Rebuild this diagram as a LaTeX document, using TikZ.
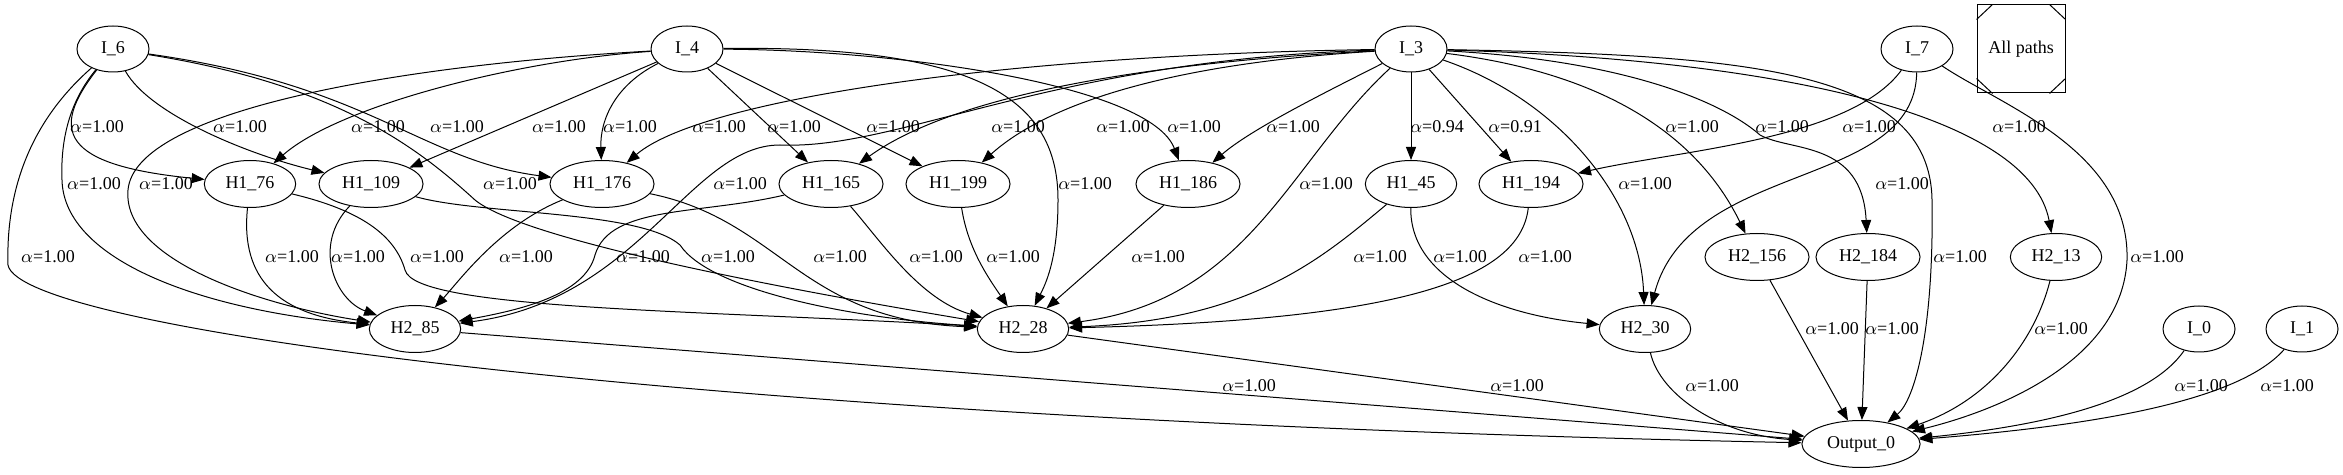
\documentclass[tikz,border=0pt]{standalone}
\usepackage{fontspec}
\setmainfont{Liberation Serif}
\usetikzlibrary{shapes, arrows.meta}

\begin{document}
\begin{tikzpicture}[->,>={Triangle[length=6.5pt,width=5pt]},x=0.5pt,y=-0.5pt,
      line width=0.5pt,font=\fontsize{9}{10}\selectfont,
      input node/.style={ellipse,draw,minimum width=36pt,minimum height=23pt,inner sep=1pt},
      hidden node/.style={ellipse,draw,inner xsep=3.9pt,minimum height=23.5pt},
      key node/.style={rectangle,draw,minimum size=44pt},
      weight node/.style={inner sep=0pt}]

    \useasboundingbox (0,0) rectangle (2343,475);

    % inputs
    \node[input node] (i6) at (113,49) {I\_6};
    \node[input node] (i4) at (687,49) {I\_4};
    \node[input node] (i3) at (1411,49) {I\_3};
    \node[input node] (i7) at (1917,49) {I\_7};
    \node[input node] (i0) at (2199,329) {I\_0};
    \node[input node] (i1) at (2302,329) {I\_1};
    \node[key node] (key) at (2021,49) {All paths};
    \draw[-] ([yshift=-7.5pt]key.north west) -- ([xshift=8pt]key.north west);
    \draw[-] ([yshift=-7.5pt]key.north east) -- ([xshift=-8pt]key.north east);
    \draw[-] ([yshift=7.5pt]key.south west) -- ([xshift=8pt]key.south west);
    \draw[-] ([yshift=7.5pt]key.south east) -- ([xshift=-8pt]key.south east);

    % first hidden layer
    \node[hidden node] (h1-76) at (250,184) {H1\_76};
    \node[hidden node] (h1-109) at (371,184) {H1\_109};
    \node[hidden node] (h1-176) at (602,184) {H1\_176};
    \node[hidden node] (h1-165) at (831,184) {H1\_165};
    \node[hidden node] (h1-199) at (958,184) {H1\_199};
    \node[hidden node] (h1-186) at (1188,184) {H1\_186};
    \node[hidden node] (h1-45) at (1411,184) {H1\_45};
    \node[hidden node] (h1-194) at (1531,184) {H1\_194};

    % second hidden layer
    \node[hidden node] (h2-156) at (1757,257) {H2\_156};
    \node[hidden node] (h2-184) at (1868,257) {H2\_184};
    \node[hidden node] (h2-13) at (2056,257) {H2\_13};
    \node[hidden node] (h2-85) at (415,329) {H2\_85};
    \node[hidden node] (h2-28) at (1023,329) {H2\_28};
    \node[hidden node] (h2-30) at (1645,329) {H2\_30};

    \node[hidden node] (out0) at (1861,444) {Output\_0};

    % from I_6
    \draw (i6) .. controls (55,100) and (5,160) .. (8,265) .. controls (20,330) and (700,420) .. (out0)
        node[weight node] (w1) at (48,257) {$\alpha$=1.00};
    \draw (i6) .. controls (75,95) and (60,130) .. (62,180) .. controls (64,260) and (200,310) .. (h2-85)
        node[weight node] (w2) at (94,184) {$\alpha$=1.00};
    \draw (i6) .. controls (50,130) and (60,165) .. (h1-76)
        node[weight node] (w3) at (97,127) {$\alpha$=1.00};
    \draw (i6) .. controls (150,115) and (250,155) .. (h1-109)
        node[weight node] (w4) at (240,127) {$\alpha$=1.00};
    \draw (i6) .. controls (370,85) and (420,160) .. (h1-176)
        node[weight node] (w5) at (457,127) {$\alpha$=1.00};
    \draw (i6) .. controls (340,85) and (420,150) .. (475,200) .. controls (530,245) and (850,300) .. (h2-28)
        node[weight node] (w6) at (510,184) {$\alpha$=1.00};

    % from I_4
    \draw (i4) .. controls (520,60) and (340,105) .. (h1-76)
        node[weight node] (w7) at (378,127) {$\alpha$=1.00};
    \draw (i4) .. controls (400,65) and (135,110) .. (128,190) .. controls (122,260) and (260,305) .. (h2-85)
        node[weight node] (w8) at (166,184) {$\alpha$=1.00};
    \draw (i4) -- (h1-109)
        node[weight node] (w9) at (559,127) {$\alpha$=1.00};
    \draw (i4) .. controls (615,85) and (600,120) .. (h1-176)
        node[weight node] (w10) at (630,127) {$\alpha$=1.00};
    \draw (i4) -- (h1-165)
        node[weight node] (w11) at (794,127) {$\alpha$=1.00};
    \draw (i4) -- (h1-199)
        node[weight node] (w12) at (893,127) {$\alpha$=1.00};
    \draw (i4) .. controls (900,50) and (1150,85) .. (h1-186)
        node[weight node] (w13) at (1194,127) {$\alpha$=1.00};
    \draw (i4) .. controls (980,45) and (1058,100) .. (1058,200) .. controls (1058,260) and (1045,285) .. (h2-28)
        node[weight node] (w14) at (1085,184) {$\alpha$=1.00};

    % from I_3
    \draw (i3) .. controls (1000,55) and (700,100) .. (h1-176)
        node[weight node] (w15) at (719,127) {$\alpha$=1.00};
    \draw (i3) .. controls (1100,65) and (940,105) .. (h1-165)
        node[weight node] (w16) at (1018,127) {$\alpha$=1.00};
    \draw (i3) .. controls (1150,65) and (1040,110) .. (h1-199)
        node[weight node] (w17) at (1123,127) {$\alpha$=1.00};
    \draw (i3) .. controls (1320,95) and (1250,130) .. (h1-186)
        node[weight node] (w18) at (1293,127) {$\alpha$=1.00};
    \draw (i3) -- (h1-45)
        node[weight node] (w19) at (1437,127) {$\alpha$=0.94};
    \draw (i3) -- (h1-194)
        node[weight node] (w20) at (1515,127) {$\alpha$=0.91};
    \draw (i3) .. controls (1050,60) and (900,150) .. (780,145) .. controls (690,145) and (640,300) .. (h2-85)
        node[weight node] (w21) at (740,184) {$\alpha$=1.00};
    \draw (i3) .. controls (1290,160) and (1250,300) .. (h2-28)
        node[weight node] (w22) at (1326,184) {$\alpha$=1.00};
    \draw (i3) .. controls (1560,100) and (1640,200) .. (h2-30)
        node[weight node] (w23) at (1645,184) {$\alpha$=1.00};
    \draw (i3) .. controls (1580,70) and (1690,120) .. (h2-156)
        node[weight node] (w24) at (1692,127) {$\alpha$=1.00};
    \draw (i3) .. controls (1620,60) and (1720,100) .. (1760,135) .. controls (1790,152) and (1862,140) .. (h2-184)
        node[weight node] (w25) at (1782,127) {$\alpha$=1.00};
    \draw (i3) .. controls (1800,60) and (2030,120) .. (h2-13)
        node[weight node] (w26) at (2019,127) {$\alpha$=1.00};
    \draw (i3) .. controls (1750,55) and (1930,70) .. (1932,200) .. controls (1934,330) and (1915,400) .. (out0)
        node[weight node] (w27) at (1960,257) {$\alpha$=1.00};

    % from I_7, I_0, I_1
    \draw (i7) .. controls (1850,140) and (1680,150) .. (h1-194)
        node[weight node] (w28) at (1869,127) {$\alpha$=1.00};
    \draw (i7) .. controls (1915,190) and (1690,160) .. (h2-30)
        node[weight node] (w29) at (1902,184) {$\alpha$=1.00};
    \draw (i7) .. controls (2000,105) and (2130,150) .. (2127,260) .. controls (2122,360) and (2000,410) .. (out0)
        node[weight node] (w30) at (2157,257) {$\alpha$=1.00};
    \draw (i0) .. controls (2150,400) and (2050,425) .. (out0)
        node[weight node] (w31) at (2201,386) {$\alpha$=1.00};
    \draw (i1) .. controls (2240,400) and (2100,425) .. (out0)
        node[weight node] (w32) at (2287,386) {$\alpha$=1.00};

    % first to second hidden layer
    \draw (h1-76) .. controls (240,280) and (280,315) .. (h2-85)
        node[weight node] (w33) at (292,257) {$\alpha$=1.00};
    \draw (h1-76) .. controls (360,210) and (395,235) .. (405,270) .. controls (415,310) and (700,310) .. (h2-28)
        node[weight node] (w34) at (437,257) {$\alpha$=1.00};
    \draw (h1-109) .. controls (312,245) and (335,300) .. (h2-85)
        node[weight node] (w35) at (358,257) {$\alpha$=1.00};
    \draw (h1-109) .. controls (480,215) and (640,210) .. (680,245) .. controls (710,290) and (850,318) .. (h2-28)
        node[weight node] (w36) at (728,257) {$\alpha$=1.00};
    \draw (h1-176) .. controls (500,225) and (460,280) .. (h2-85)
        node[weight node] (w37) at (526,257) {$\alpha$=1.00};
    \draw (h1-176) .. controls (780,220) and (800,320) .. (h2-28)
        node[weight node] (w38) at (840,257) {$\alpha$=1.00};
    \draw (h1-165) .. controls (700,215) and (610,205) .. (595,255) .. controls (585,295) and (520,310) .. (h2-85)
        node[weight node] (w39) at (643,257) {$\alpha$=1.00};
    \draw (h1-165) .. controls (880,240) and (920,300) .. (h2-28)
        node[weight node] (w40) at (936,257) {$\alpha$=1.00};
    \draw (h1-199) .. controls (968,250) and (990,280) .. (h2-28)
        node[weight node] (w41) at (1013,257) {$\alpha$=1.00};
    \draw (h1-186) -- (h2-28)
        node[weight node] (w42) at (1158,257) {$\alpha$=1.00};
    \draw (h1-45) .. controls (1320,260) and (1250,320) .. (h2-28)
        node[weight node] (w43) at (1380,257) {$\alpha$=1.00};
    \draw (h1-45) .. controls (1410,280) and (1500,315) .. (h2-30)
        node[weight node] (w44) at (1460,257) {$\alpha$=1.00};
    \draw (h1-194) .. controls (1520,280) and (1400,320) .. (h2-28)
        node[weight node] (w45) at (1545,257) {$\alpha$=1.00};

    % second hidden layer to output
    \draw (h2-85) -- (out0)
        node[weight node] (w46) at (1249,386) {$\alpha$=1.00};
    \draw (h2-28) -- (out0)
        node[weight node] (w47) at (1517,386) {$\alpha$=1.00};
    \draw (h2-30) .. controls (1660,395) and (1720,435) .. (out0)
        node[weight node] (w48) at (1712,386) {$\alpha$=1.00};
    \draw (h2-156) -- (out0)
        node[weight node] (w49) at (1832,329) {$\alpha$=1.00};
    \draw (h2-184) -- (out0)
        node[weight node] (w50) at (1892,329) {$\alpha$=1.00};
    \draw (h2-13) .. controls (2035,340) and (1990,400) .. (out0)
        node[weight node] (w51) at (2061,329) {$\alpha$=1.00};
\end{tikzpicture}
\end{document}
